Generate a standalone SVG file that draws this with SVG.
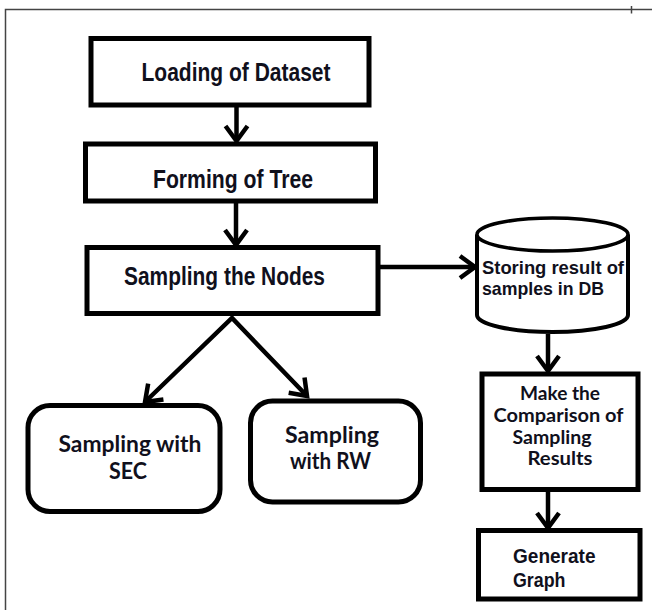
<svg xmlns="http://www.w3.org/2000/svg" width="652" height="610" viewBox="0 0 652 610">
  <style>
    .frame { fill: none; stroke: #444; stroke-width: 1.5; }
    .box { fill: #fff; stroke: #000; stroke-width: 5; }
    .thin { fill: #fff; stroke: #000; stroke-width: 4; }
    .conn { fill: none; stroke: #000; stroke-width: 4.5; }
    .main { font-family: "Liberation Sans", Arial, sans-serif; font-weight: bold; font-size: 25px; fill: #10101c; text-anchor: middle; }
    .cal { font-family: Lato, "Liberation Sans", sans-serif; font-weight: bold; font-size: 22px; fill: #10101c; text-anchor: middle; }
    .cmp { font-family: Lato, "Liberation Sans", sans-serif; font-weight: bold; font-size: 18.5px; fill: #10101c; text-anchor: middle; }
    .small { font-family: "Liberation Sans", Arial, sans-serif; font-weight: bold; font-size: 18.5px; fill: #10101c; }
    .gen { font-family: "Liberation Sans", Arial, sans-serif; font-weight: bold; font-size: 21px; fill: #10101c; }
  </style>
  <defs>
    <marker id="arrow" markerUnits="userSpaceOnUse" markerWidth="40" markerHeight="40" refX="0" refY="0" viewBox="-20 -20 40 40" orient="auto-start-reverse" overflow="visible">
      <path d="M-15,-11 L0,0 L-15,11" fill="none" stroke="#000" stroke-width="4.5" stroke-linejoin="miter"/>
    </marker>
  </defs>

  <rect width="652" height="610" fill="#fff"/>

  <g id="frame">
    <path class="frame" d="M5.5,610 L5.5,9.5 L652,9.5"/>
    <path class="frame" d="M631.5,6 L631.5,13.5"/>
  </g>

  <g id="connectors">
    <path class="conn" d="M236.5,107 L236.5,141" marker-end="url(#arrow)"/>
    <path class="conn" d="M236,203 L236,245" marker-end="url(#arrow)"/>
    <path class="conn" d="M380,267 L475,267" marker-end="url(#arrow)"/>
    <path class="conn" d="M145,402 L232,318 L307,396" marker-start="url(#arrow)" marker-end="url(#arrow)"/>
    <path class="conn" d="M548,334 L548,371" marker-end="url(#arrow)"/>
    <path class="conn" d="M548,491 L548,528" marker-end="url(#arrow)"/>
  </g>

  <g id="loading">
    <rect class="box" x="91" y="38.5" width="278" height="66.5"/>
    <text class="main" x="236" y="81" textLength="189" lengthAdjust="spacingAndGlyphs">Loading of Dataset</text>
  </g>

  <g id="forming">
    <rect class="box" x="85.5" y="144" width="290" height="57"/>
    <text class="main" x="233" y="188" textLength="160" lengthAdjust="spacingAndGlyphs">Forming of Tree</text>
  </g>

  <g id="sampling">
    <rect class="box" x="87" y="247.5" width="291" height="66"/>
    <text class="main" x="224.5" y="285" textLength="201" lengthAdjust="spacingAndGlyphs">Sampling the Nodes</text>
  </g>

  <g id="storing">
    <path class="thin" d="M477,234.5 L477,315 A75.5,17 0 0 0 628,315 L628,234.5"/>
    <ellipse cx="552.5" cy="234.5" rx="75.5" ry="16.5" fill="#fff" stroke="#000" stroke-width="3.5"/>
    <text class="small" x="482" y="274" textLength="142" lengthAdjust="spacingAndGlyphs">Storing result of</text>
    <text class="small" x="482" y="295" textLength="122" lengthAdjust="spacingAndGlyphs">samples in DB</text>
  </g>

  <g id="sec">
    <rect class="box" x="28" y="405.5" width="192" height="106" rx="22" ry="22"/>
    <text class="cal" x="130" y="452" textLength="143" lengthAdjust="spacingAndGlyphs">Sampling with</text>
    <text class="cal" x="128" y="479" textLength="38" lengthAdjust="spacingAndGlyphs">SEC</text>
  </g>

  <g id="rw">
    <rect class="box" x="250.5" y="401" width="170" height="101" rx="22" ry="22"/>
    <text class="cal" x="332" y="443" textLength="94" lengthAdjust="spacingAndGlyphs">Sampling</text>
    <text class="cal" x="330.5" y="469" textLength="81" lengthAdjust="spacingAndGlyphs">with RW</text>
  </g>

  <g id="compare">
    <rect class="box" x="482" y="374" width="156" height="115.5"/>
    <text class="cmp" x="560" y="400" textLength="80" lengthAdjust="spacingAndGlyphs">Make the</text>
    <text class="cmp" x="558.5" y="422" textLength="130" lengthAdjust="spacingAndGlyphs">Comparison of</text>
    <text class="cmp" x="552" y="443.5" textLength="79" lengthAdjust="spacingAndGlyphs">Sampling</text>
    <text class="cmp" x="560" y="465" textLength="65" lengthAdjust="spacingAndGlyphs">Results</text>
  </g>

  <g id="generate">
    <rect class="box" x="478.5" y="530.5" width="161.5" height="68.5"/>
    <text class="gen" x="513" y="563" textLength="82.5" lengthAdjust="spacingAndGlyphs">Generate</text>
    <text class="gen" x="513" y="587" textLength="52.5" lengthAdjust="spacingAndGlyphs">Graph</text>
  </g>
</svg>
